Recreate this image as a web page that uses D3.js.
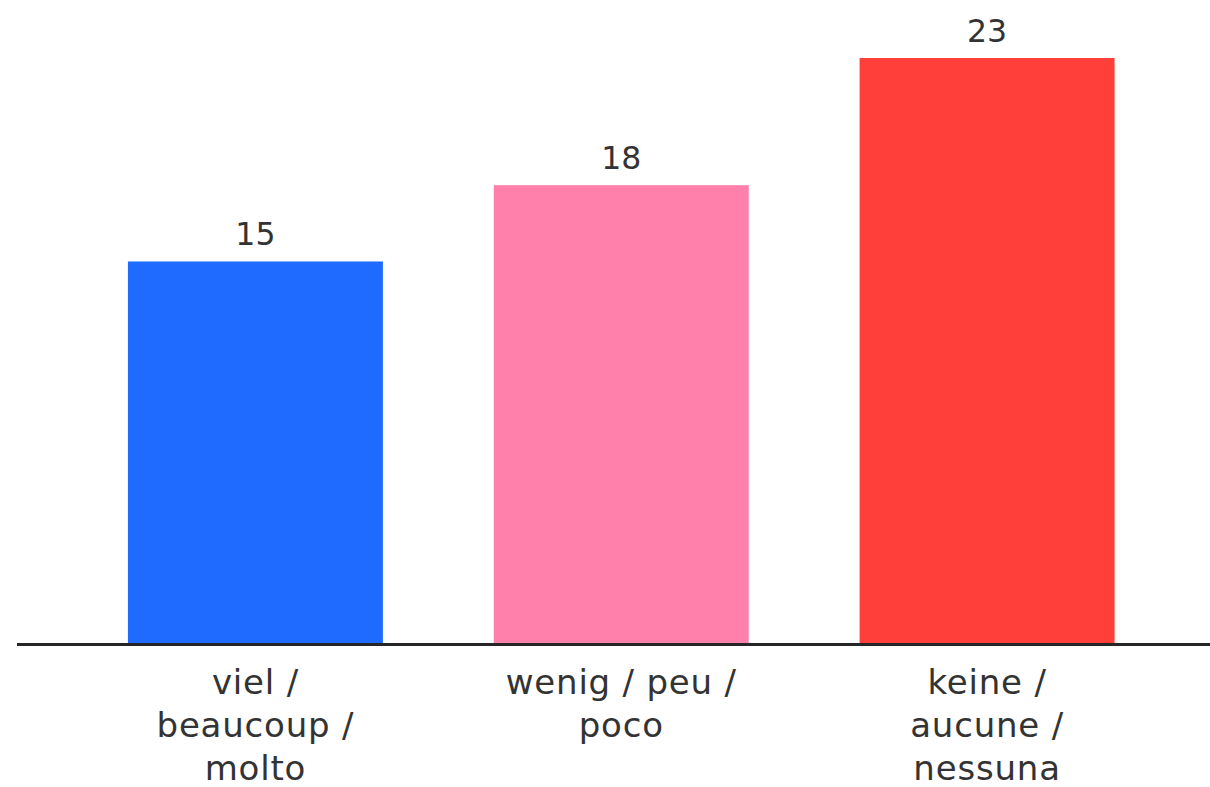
<!DOCTYPE html>
<html><head><meta charset="utf-8">
<script src="https://cdn.jsdelivr.net/npm/d3@7"></script>
<style>html,body{margin:0;padding:0;background:#fff;}svg{display:block;}</style>
</head><body>
<script>
const categories = [["viel /","beaucoup /","molto"],["wenig / peu /","poco"],["keine /","aucune /","nessuna"]];
const values = [15, 18, 23];
const colors = ["#1f6bff", "#ff80aa", "#ff403a"];

const W = 1210, H = 787;
const svg = d3.select("body").append("svg").attr("width", W).attr("height", H);
const x = d3.scaleBand().domain(d3.range(values.length)).range([72.5, 1170]).paddingInner(0.303).paddingOuter(0.1515);
const y = d3.scaleLinear().domain([0, 23]).range([643, 58]);

svg.selectAll("rect.bar").data(values).enter().append("rect")
  .attr("x", (d,i)=>x(i)).attr("width", x.bandwidth())
  .attr("y", d=>y(d)).attr("height", d=>y(0)-y(d))
  .attr("fill", (d,i)=>colors[i]);

svg.selectAll("text.val").data(values).enter().append("text")
  .attr("x", (d,i)=>x(i)+x.bandwidth()/2).attr("y", d=>y(d)-16)
  .attr("text-anchor","middle").attr("font-family","'DejaVu Sans', sans-serif")
  .attr("font-size", 31.5).attr("fill","#333").text(d=>d);

svg.append("line").attr("x1",17).attr("x2",W).attr("y1",y(0)+1.5).attr("y2",y(0)+1.5)
  .attr("stroke","#262626").attr("stroke-width",3);

categories.forEach((lines,i)=>{
  const t = svg.append("text").attr("text-anchor","middle")
    .attr("font-family","'DejaVu Sans', sans-serif").attr("font-size",34)
    .attr("letter-spacing", 0.8).attr("fill","#333");
  lines.forEach((l,j)=>{
    t.append("tspan").attr("x", x(i)+x.bandwidth()/2).attr("y", 694 + j*43).text(l);
  });
});
</script>
</body></html>
